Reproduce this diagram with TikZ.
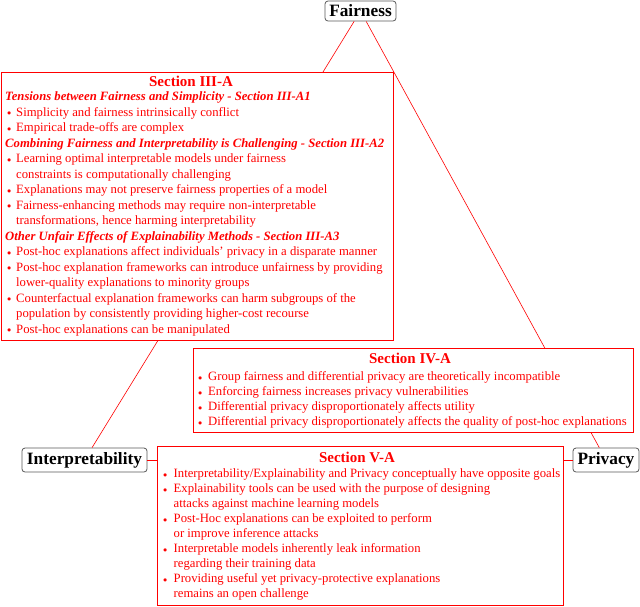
\documentclass[tikz,border=0pt]{standalone}
\usepackage{fontspec}
\setmainfont{Liberation Serif}
\usepackage{graphicx}
\newcommand{\smallbul}{\raisebox{0.05em}{\scalebox{0.7}{$\bullet$}}}
\newcommand{\bitem}[2][10pt]{\par\hangindent=#1\hangafter=1\noindent\makebox[#1][l]{\smallbul}#2}
\newcommand{\subhead}[1]{\par\noindent\hspace*{-2pt}{\bfseries\itshape #1}}
\begin{document}
\begin{tikzpicture}[x=1pt,y=-1pt,
  topic/.style={draw=black!65, line width=0.8pt, rounded corners=3pt, inner sep=0pt, fill=white,
    font=\fontsize{17.3}{18}\selectfont\bfseries},
  link/.style={red, line width=0.6pt},
  frame/.style={draw=red, line width=1pt, fill=white, inner sep=0pt, anchor=north west},
  sectitle/.style={red, font=\fontsize{15}{17}\selectfont\bfseries, inner sep=0pt, anchor=base},
  body/.style={red, inner sep=0pt, anchor=base west, font=\fontsize{12.7}{15}\selectfont}]
\useasboundingbox (0,0) rectangle (640,606);
\fill[white] (0,0) rectangle (640,606);
% topic nodes
\node[topic, minimum width=71pt, minimum height=20pt] (fair) at (360.5,11) {Fairness};
\node[topic, minimum width=125pt, minimum height=24pt] (interp) at (84.5,460) {Interpretability};
\node[topic, minimum width=66pt, minimum height=24pt] (priv) at (606,460) {Privacy};
% connectors
\draw[link] (fair) -- (interp);
\draw[link] (fair) -- (priv);
\draw[link] (interp) -- (priv);
% frames
\node[frame, minimum width=392pt, minimum height=268pt] (s3) at (1,72) {};
\node[frame, minimum width=440pt, minimum height=84pt] (s4) at (193,348) {};
\node[frame, minimum width=406pt, minimum height=159pt] (s5) at (157,446) {};
% Section III-A
\node[sectitle] (s3h) at (191,86) {Section III-A};
\node[body] (s3b) at (7,100.7) {\begin{minipage}[t]{420pt}\baselineskip=15.5pt\parindent=0pt\parfillskip=0pt plus 1fil
\subhead{Tensions between Fairness and Simplicity - Section III-A1}
\bitem[9pt]{Simplicity and fairness intrinsically conflict}
\bitem[9pt]{Empirical trade-offs are complex}
\subhead{Combining Fairness and Interpretability is Challenging - Section III-A2}
\bitem[9pt]{Learning optimal interpretable models under fairness\newline constraints is computationally challenging}
\bitem[9pt]{Explanations may not preserve fairness properties of a model}
\bitem[9pt]{Fairness-enhancing methods may require non-interpretable\newline transformations, hence harming interpretability}
\subhead{Other Unfair Effects of Explainability Methods - Section III-A3}
\bitem[9pt]{Post-hoc explanations affect individuals' privacy in a disparate manner}
\bitem[9pt]{Post-hoc explanation frameworks can introduce unfairness by providing\newline lower-quality explanations to minority groups}
\bitem[9pt]{Counterfactual explanation frameworks can harm subgroups of the\newline population by consistently providing higher-cost recourse}
\bitem[9pt]{Post-hoc explanations can be manipulated}\par
\end{minipage}};
% Section IV-A
\node[sectitle] (s4h) at (410,363.5) {Section IV-A};
\node[body] (s4b) at (198,380.7) {\begin{minipage}[t]{460pt}\parindent=0pt
\bitem{Group fairness and differential privacy are theoretically incompatible}
\bitem{Enforcing fairness increases privacy vulnerabilities}
\bitem{Differential privacy disproportionately affects utility}
\bitem{Differential privacy disproportionately affects the quality of post-hoc explanations}\par
\end{minipage}};
% Section V-A
\node[sectitle] (s5h) at (357,462) {Section V-A};
\node[body] (s5b) at (163,477.7) {\begin{minipage}[t]{440pt}\parindent=0pt
\bitem[10.5pt]{Interpretability/Explainability and Privacy conceptually have opposite goals}
\bitem[10.5pt]{Explainability tools can be used with the purpose of designing\newline attacks against machine learning models}
\bitem[10.5pt]{Post-Hoc explanations can be exploited to perform\newline or improve inference attacks}
\bitem[10.5pt]{Interpretable models inherently leak information\newline regarding their training data}
\bitem[10.5pt]{Providing useful yet privacy-protective explanations\newline remains an open challenge}\par
\end{minipage}};
\end{tikzpicture}
\end{document}
